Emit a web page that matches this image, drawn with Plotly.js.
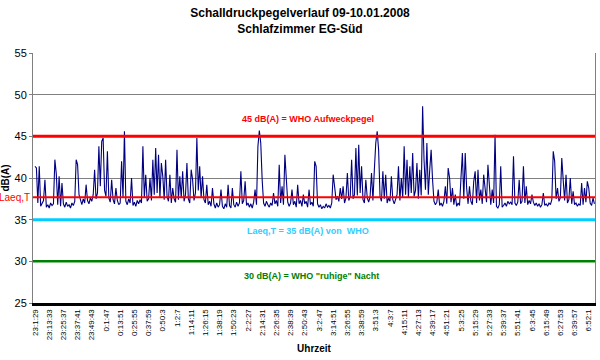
<!DOCTYPE html>
<html>
<head>
<meta charset="utf-8">
<script src="https://cdn.plot.ly/plotly-3.0.1.min.js"></script>
<style>html,body{margin:0;padding:0;background:#fff;}#chart{width:600px;height:360px;}</style>
</head>
<body>
<div id="chart"></div>
<script>
// Tick labels (every 10th sample)
const timeLabels = ["23:1:29","23:13:33","23:25:37","23:37:41","23:49:43","0:1:47","0:13:51","0:25:55","0:37:59","0:50:3",
  "1:2:7","1:14:11","1:26:15","1:38:19","1:50:23","2:2:27","2:14:31","2:26:35","2:38:39","2:50:43",
  "3:2:47","3:14:51","3:26:55","3:38:59","3:51:3","4:3:7","4:15:11","4:27:13","4:39:17","4:51:21",
  "5:3:25","5:15:29","5:27:33","5:39:37","5:51:41","6:3:45","6:15:49","6:27:53","6:39:57","6:52:1"];
const labelStep = 10;

// Sound pressure level dB(A)
const levels = [
41.4,41.2,37.0,41.4,36.6,36.9,37.3,39.8,36.5,36.8,36.4,37.0,36.7,36.9,42.2,40.5,36.8,40.2,36.6,39.4,
36.9,36.5,37.1,36.6,36.8,36.4,37.0,36.7,37.2,42.2,41.6,38.0,37.4,36.8,37.5,37.0,39.2,37.3,36.9,37.6,
37.2,38.0,41.0,37.5,38.2,43.8,39.0,44.4,44.8,38.5,37.8,43.2,37.6,37.1,39.8,37.4,36.9,38.8,37.3,36.8,
37.0,42.0,37.6,45.6,37.2,36.8,37.5,37.0,40.0,36.7,37.1,36.6,37.3,36.9,37.4,37.0,43.8,37.6,40.4,37.2,
37.5,40.0,37.3,42.2,38.0,43.6,38.2,42.8,37.6,41.8,40.2,37.4,42.2,37.8,37.2,40.4,37.0,38.8,37.5,37.1,
43.4,37.4,40.2,37.6,40.8,37.2,38.0,41.8,37.5,37.0,41.0,39.8,37.3,38.2,44.8,38.5,41.4,37.6,40.2,37.4,
37.0,39.2,36.8,37.2,36.6,38.8,36.9,36.4,37.0,36.5,36.8,38.6,36.6,36.3,36.9,36.5,39.2,36.7,36.4,38.8,
36.8,36.5,37.1,36.6,37.0,40.8,36.9,37.3,39.6,36.7,37.0,36.5,36.9,36.4,37.1,38.6,36.8,43.8,45.7,44.2,
39.8,37.0,36.6,37.2,36.8,36.5,37.0,36.7,38.2,36.9,37.3,36.6,41.6,37.0,39.0,36.8,42.8,40.2,37.1,36.6,
37.0,38.6,36.8,37.2,36.5,39.2,36.9,37.3,36.6,38.0,36.9,37.2,36.5,38.6,36.8,37.1,36.6,42.0,41.4,36.9,
36.5,36.8,36.3,36.6,36.4,36.9,36.5,36.7,36.4,37.0,40.4,39.0,37.4,37.8,37.2,38.8,37.5,39.0,37.0,37.6,
40.6,37.3,37.8,42.2,37.5,38.0,43.6,37.9,44.0,38.2,41.4,37.4,37.0,39.8,37.6,37.1,37.8,40.6,37.3,41.0,
44.2,45.6,43.4,37.8,37.2,40.8,37.5,40.4,37.0,37.6,37.2,40.2,37.4,36.9,37.5,38.0,41.4,37.3,40.0,37.6,
43.8,38.0,42.2,37.6,41.4,38.2,43.0,37.8,38.5,41.8,37.5,41.0,37.9,48.6,42.2,38.6,44.2,38.0,41.0,43.4,
39.8,37.2,36.8,37.1,38.6,36.7,37.0,36.6,37.2,39.0,36.9,41.2,40.0,37.1,38.8,36.8,38.0,36.6,37.0,36.7,
40.0,43.0,37.5,43.0,38.8,36.9,39.0,37.2,36.8,39.6,40.8,37.0,41.0,37.3,38.6,36.9,40.4,39.0,37.1,41.6,
39.2,36.8,38.6,37.0,45.2,36.6,36.4,36.8,41.4,36.5,36.7,37.0,36.6,37.2,36.9,37.1,36.8,42.6,37.0,36.7,
37.1,39.8,36.9,37.2,41.4,37.0,39.0,36.8,37.3,36.9,38.0,37.1,36.7,37.0,36.6,36.9,36.5,36.8,38.2,36.7,
36.9,36.6,37.0,36.8,37.4,43.2,42.0,37.5,38.8,37.2,37.6,42.4,39.8,37.3,40.4,37.0,37.4,40.0,36.9,38.4,
36.8,37.0,36.6,36.9,36.7,39.4,36.8,38.8,37.1,39.6,38.8,37.0,36.7,37.6,36.9
];

// Reference levels
const whoWake = 45;
const laeqMeasured = 37.7;
const whoLaeq = 35;
const whoQuiet = 30;

const sampleIdx = levels.map((_, i) => i);
const tickIdx = timeLabels.map((_, i) => i * labelStep);

const FONT = "Liberation Sans, Arial, sans-serif";

const trace = {
  x: sampleIdx, y: levels, type: "scatter", mode: "lines",
  line: {color: "#000080", width: 1.1}, hoverinfo: "skip", showlegend: false
};

function hline(y, color, w) {
  return {type: "line", xref: "paper", x0: 0, x1: 1, yref: "y", y0: y, y1: y,
          line: {color: color, width: w}, layer: "above"};
}

const layout = {
  width: 600, height: 360,
  margin: {l: 33, r: 5, t: 53, b: 57},
  paper_bgcolor: "#fff", plot_bgcolor: "#fff",
  font: {family: FONT, color: "#000"},
  title: {text: "<b>Schalldruckpegelverlauf 09-10.01.2008<br>Schlafzimmer EG-Süd</b>",
          font: {size: 12, family: FONT, color: "#000"}, x: 0.5, xanchor: "center",
          yref: "container", y: 0.953, yanchor: "middle"},
  xaxis: {
    range: [-1.4, 394.4], tickmode: "array", tickvals: tickIdx, ticktext: timeLabels,
    tickangle: -90, tickfont: {size: 8, family: FONT}, showgrid: false, zeroline: false,
    showline: true, linecolor: "#000", linewidth: 3, ticks: "", ticklen: 0,
    title: {text: "<b>Uhrzeit</b>", font: {size: 10, family: FONT}, standoff: 6}
  },
  yaxis: {
    range: [25, 55], dtick: 5, tick0: 25, tickfont: {size: 11, family: FONT},
    showgrid: true, gridcolor: "#808080", gridwidth: 1, zeroline: false,
    showline: true, linecolor: "#808080", linewidth: 1, mirror: true,
    ticks: "outside", ticklen: 3, tickcolor: "#808080",
    title: {text: "<b>dB(A)</b>", font: {size: 10, family: FONT}, standoff: 6}
  },
  shapes: [
    hline(whoWake, "#ff0000", 3),
    hline(laeqMeasured, "#ff0000", 2),
    hline(whoLaeq, "#00ccff", 3),
    hline(whoQuiet, "#008000", 2.5)
  ],
  annotations: [
    {text: "<b>45 dB(A) = WHO Aufweckpegel</b>", xref: "paper", x: 0.489, yref: "y", y: whoWake,
     yanchor: "bottom", yshift: 10, showarrow: false, font: {size: 9, color: "#ff0000", family: FONT}},
    {text: "<b>Laeq,T = 35 dB(A) von  WHO</b>", xref: "paper", x: 0.489, yref: "y", y: whoLaeq,
     yanchor: "top", yshift: -4, showarrow: false, font: {size: 9, color: "#33ccff", family: FONT}},
    {text: "<b>30 dB(A) = WHO \"ruhige\" Nacht</b>", xref: "paper", x: 0.495, yref: "y", y: whoQuiet,
     yanchor: "top", yshift: -8, showarrow: false, font: {size: 9, color: "#008000", family: FONT}},
    {text: "Laeq,T", xref: "paper", x: 0, xanchor: "right", xshift: -1, yref: "y", y: laeqMeasured,
     yanchor: "middle", showarrow: false, font: {size: 10, color: "#ff0000", family: FONT}}
  ]
};

Plotly.newPlot("chart", [trace], layout, {staticPlot: true, displayModeBar: false});
</script>
</body>
</html>
